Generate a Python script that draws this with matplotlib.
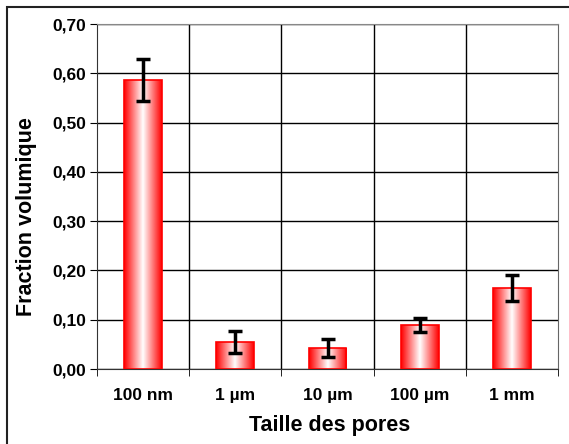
import numpy as np
import matplotlib.pyplot as plt
from matplotlib.colors import LinearSegmentedColormap
from matplotlib.patches import Rectangle

tailles = ['100 nm', '1 µm', '10 µm', '100 µm', '1 mm']
fraction = [0.587, 0.055, 0.043, 0.089, 0.164]
erreur = [0.043, 0.023, 0.018, 0.014, 0.027]

plt.rcParams['font.family'] = ['Liberation Sans', 'DejaVu Sans']

fig = plt.figure(figsize=(5.69, 4.44), dpi=100)
# cadre extérieur (coupé à droite et en bas)
fig.patches.append(Rectangle((7 / 569, -0.05), 1.0, 1.0 - 7 / 444 + 0.05,
                             transform=fig.transFigure, fill=False,
                             edgecolor='#222222', lw=1.5))
ax = fig.add_axes([97 / 569, 75 / 444, 461 / 569, 345 / 444])

x = np.arange(len(tailles))
w = 0.41
cmap = LinearSegmentedColormap.from_list('rw', ['#ff0000', '#ffffff', '#ff0000'])
grad = np.linspace(0, 1, 256).reshape(1, -1)
for xi, v in zip(x, fraction):
    im = ax.imshow(grad, cmap=cmap, aspect='auto', extent=(xi - w / 2, xi + w / 2, 0, v),
                   zorder=3, interpolation='bilinear')
    r = Rectangle((xi - w / 2, 0), w, v, fill=False, edgecolor='#ff0000', lw=1.2, zorder=4)
    ax.add_patch(r)
    im.set_clip_path(r)

ax.errorbar(x, fraction, yerr=erreur, fmt='none', ecolor='black', elinewidth=2.5,
            capsize=5, capthick=2.5, zorder=5)

ax.set_xlim(-0.5, len(tailles) - 0.5)
ax.set_ylim(0, 0.70)
yt = np.arange(0, 0.71, 0.10)
ax.set_yticks(yt)
ax.set_yticklabels([f'{t:.2f}'.replace('.', ',') for t in yt], fontsize=12.5, fontweight='bold')
ax.set_xticks(x)
ax.set_xticklabels(tailles, fontsize=12.5, fontweight='bold')
ax.tick_params(axis='x', length=0, pad=14)
ax.set_xticks(np.arange(-0.5, len(tailles)), minor=True)
ax.tick_params(axis='x', which='minor', length=5, direction='out')
ax.tick_params(axis='y', length=5, direction='out', pad=3)

for yv in yt:
    ax.axhline(yv, color='black', lw=1, zorder=1)
for xv in np.arange(0.5, len(tailles) - 0.5):
    ax.axvline(xv, color='black', lw=1, zorder=1)

for s in ax.spines.values():
    s.set_color('#333333')
ax.spines['right'].set_color('#666666')
ax.spines['top'].set_color('#888888')

ax.set_xlabel('Taille des pores', fontsize=15.5, fontweight='bold')
ax.set_ylabel('Fraction volumique', fontsize=15.5, fontweight='bold')
ax.xaxis.set_label_coords(0.505, -0.133)
ax.yaxis.set_label_coords(-0.130, 0.443)

fig.savefig('out.png', dpi=100)
